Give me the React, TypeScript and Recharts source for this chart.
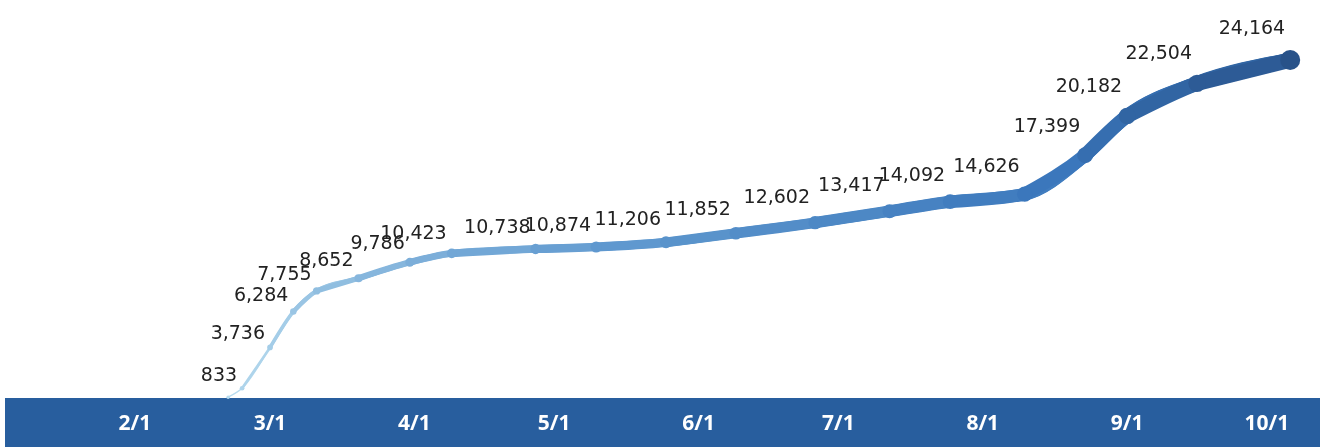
import React from 'react';
import { LineChart, Line, XAxis, YAxis, LabelList } from 'recharts';

// cumulative cases, 2020
const dates = [
  '2/21', '2/24', '3/1', '3/6', '3/11', '3/20', '3/31', '4/9', '4/27', '5/10',
  '5/25', '6/9', '6/26', '7/12', '7/25', '8/10', '8/23', '9/1', '9/16', '10/6',
];
const cases = [
  204, 833, 3736, 6284, 7755, 8652, 9786, 10423, 10738, 10874,
  11206, 11852, 12602, 13417, 14092, 14626, 17399, 20182, 22504, 24164,
];
const tickLabels = ['2/1', '3/1', '4/1', '5/1', '6/1', '7/1', '8/1', '9/1', '10/1'];

const toDay = (s: string) => {
  const [m, d] = s.split('/').map(Number);
  return (Date.UTC(2020, m - 1, d) - Date.UTC(2020, 1, 1)) / 86400000;
};

const n = cases.length;

// colour ramp: light blue -> dark navy
const stops = [
  [0, [184, 220, 239]],
  [0.45, [98, 155, 208]],
  [0.8, [58, 118, 187]],
  [1, [40, 82, 137]],
] as const;

function colorAt(t: number) {
  for (let i = 1; i < stops.length; i++) {
    const [t1, c1] = stops[i];
    const [t0, c0] = stops[i - 1];
    if (t <= t1) {
      const f = (t - t0) / (t1 - t0);
      const c = c0.map((v, j) => Math.round(v + (c1[j] - v) * f));
      return `rgb(${c[0]},${c[1]},${c[2]})`;
    }
  }
  return 'rgb(40,82,137)';
}

const widthAt = (i: number) => 1.5 + 14.5 * Math.pow(i / (n - 1), 0.85);

const chartData = dates.map((d, i) => {
  const row: any = { day: toDay(d), v: cases[i] };
  for (let k = 0; k <= i; k++) row[`s${k}`] = cases[i];
  return row;
});

const CaseLabel = (props: any) => {
  const { x, y, index, value } = props;
  if (index === 0) return null;
  const w = widthAt(index);
  return (
    <text
      x={x - 5}
      y={y - (11 + w * 1.35)}
      textAnchor='end'
      dominantBaseline='central'
      fontFamily='DejaVu Sans'
      fontSize={19}
      fill='#222'
    >
      {Number(value).toLocaleString('en-US')}
    </text>
  );
};

const WhiteTick = (props: any) => {
  const { x, y, index } = props;
  return (
    <text
      x={x}
      y={y + 16}
      textAnchor='middle'
      dominantBaseline='middle'
      fontFamily='Open Sans'
      fontWeight={700}
      fontSize={21}
      fill='#fff'
    >
      {tickLabels[index]}
    </text>
  );
};

export default function App() {
  return (
    <div style={{ position: 'fixed', left: 0, top: 0, width: 1324, height: 447 }}>
      <div
        style={{
          position: 'absolute',
          left: 5,
          top: 398,
          width: 1315,
          height: 49,
          background: '#285e9e',
        }}
      />
      <LineChart
        width={1324}
        height={447}
        data={chartData}
        margin={{ top: 6, right: 4, left: 5, bottom: 0 }}
        style={{ position: 'relative' }}
      >
        <XAxis
          dataKey='day'
          type='number'
          domain={[-27.9, 254.4]}
          ticks={tickLabels.map(toDay)}
          interval={0}
          height={47}
          axisLine={false}
          tickLine={false}
          tick={<WhiteTick />}
        />
        <YAxis hide domain={[0, 28000]} />
        {cases.map((_, k) => {
          const col = colorAt(k / (n - 1));
          const w = widthAt(k);
          return (
            <Line
              key={k}
              dataKey={`s${k}`}
              type='monotone'
              stroke={col}
              strokeWidth={w}
              strokeLinecap='round'
              strokeLinejoin='round'
              isAnimationActive={false}
              dot={(p: any) =>
                p.index === k && p.cy != null ? (
                  <circle
                    key={`d${k}`}
                    cx={p.cx}
                    cy={p.cy}
                    r={k === n - 1 ? 10 : w / 2 + 1}
                    fill={col}
                  />
                ) : (
                  <g key={`d${k}-${p.index}`} />
                )
              }
              activeDot={false}
            />
          );
        })}
        <Line
          dataKey='v'
          stroke='none'
          dot={false}
          activeDot={false}
          isAnimationActive={false}
        >
          <LabelList dataKey='v' content={<CaseLabel />} />
        </Line>
      </LineChart>
    </div>
  );
}
